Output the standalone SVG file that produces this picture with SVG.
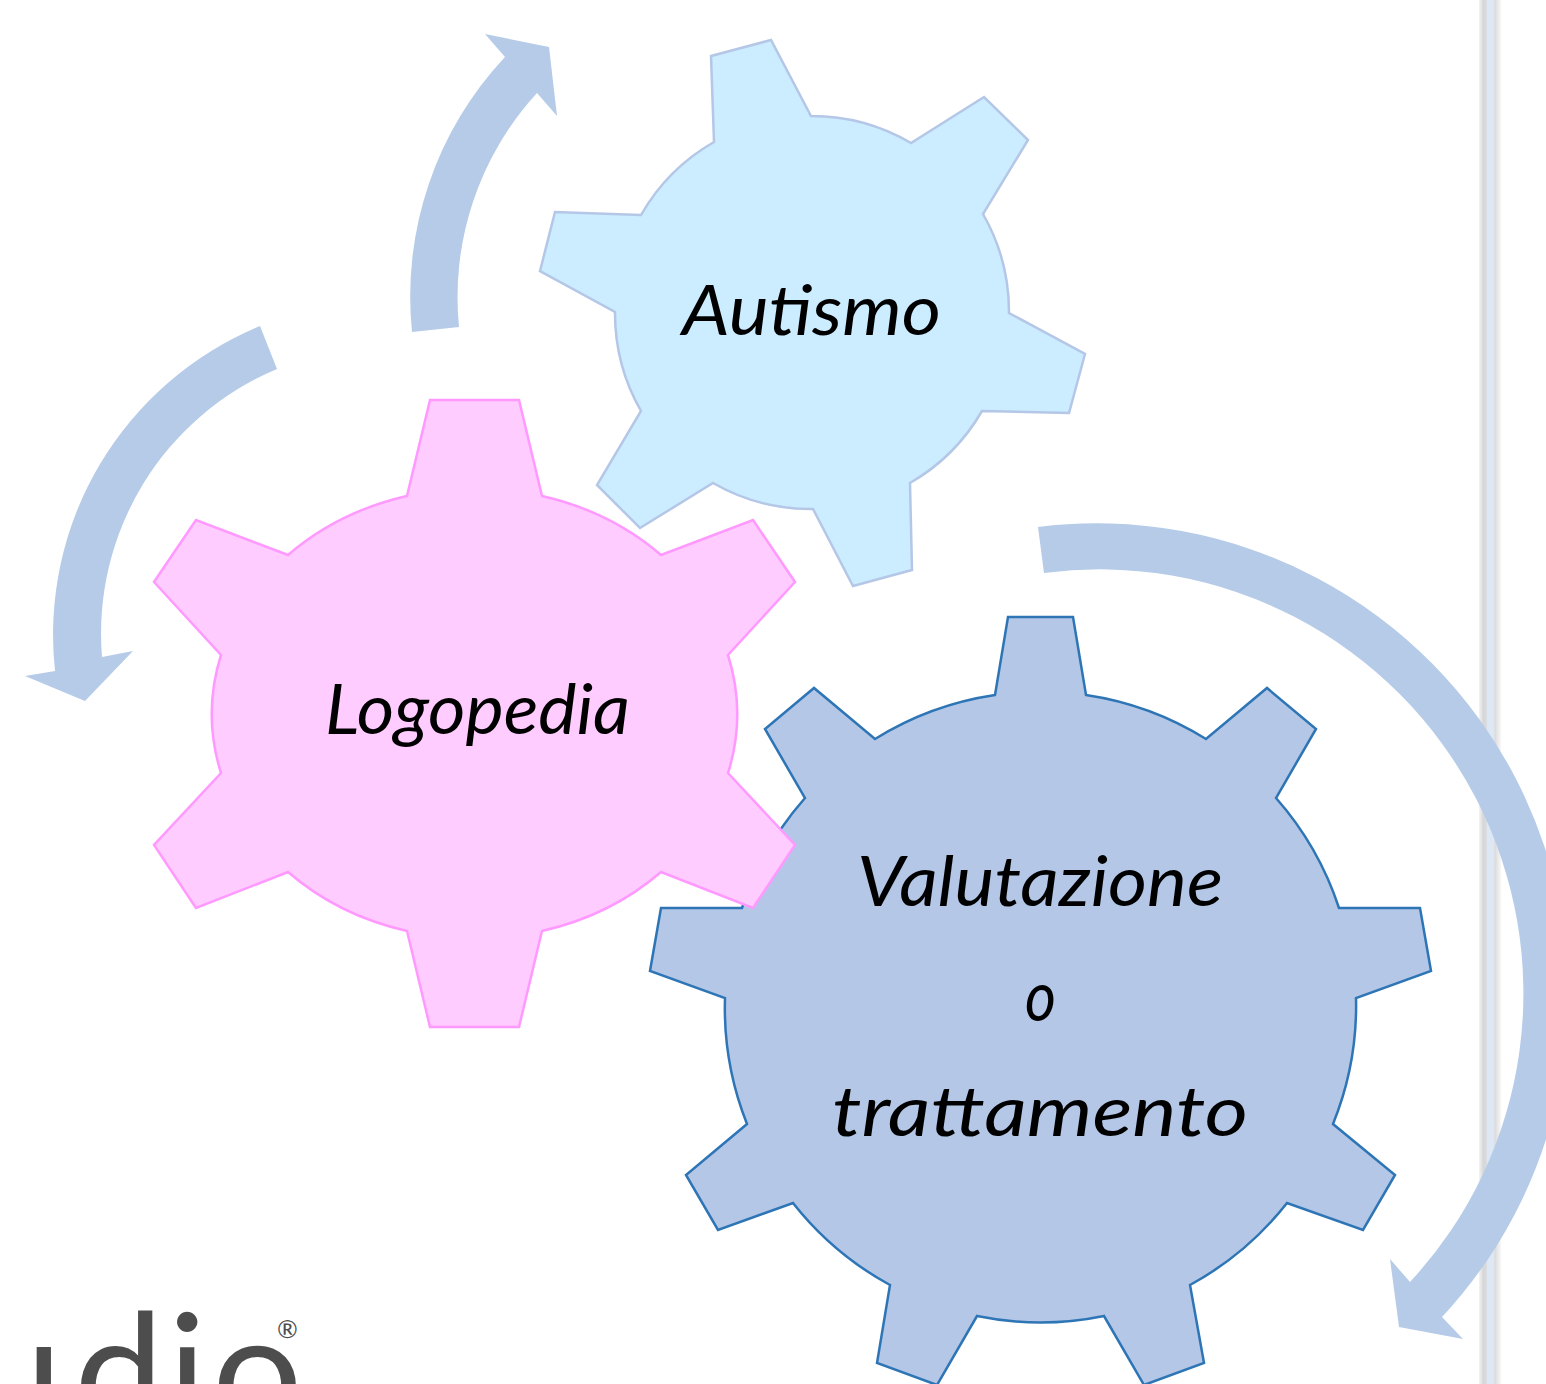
<svg xmlns="http://www.w3.org/2000/svg" width="1546" height="1384" viewBox="0 0 1546 1384">
<style>
.lbl{font-family:"Lato","Noto Sans",sans-serif;font-style:italic;font-size:70px;fill:#000;text-anchor:start}
.arrow{fill:#B5CBE8;stroke:none}
.gear{stroke-width:2.5;stroke-linejoin:miter}
.logo{font-family:"Lato","Noto Sans",sans-serif;fill:#4D4D4D}
</style>
<defs>
<linearGradient id="band" x1="0" x2="1" y1="0" y2="0">
<stop offset="0" stop-color="#F4F4F4"/><stop offset="0.2" stop-color="#D6D6D6"/><stop offset="0.36" stop-color="#D9DDE2"/><stop offset="0.38" stop-color="#DEE8F5"/><stop offset="0.68" stop-color="#DEE8F5"/><stop offset="0.72" stop-color="#DADADA"/><stop offset="1" stop-color="#F8F8F8"/>
</linearGradient>
</defs>
<rect width="1546" height="1384" fill="#FFFFFF"/>
<rect id="side-band" x="1479" y="0" width="22" height="1384" fill="url(#band)"/>
<g id="logo">
<text class="logo" font-size="160" x="-27 74 168 212" y="1428">udio</text>
<text class="logo" font-size="25" x="277" y="1338">®</text>
</g>
<g id="connectors">
<path class="arrow" d="M1038 527A472 472 0 0 1 1442 1317L1463 1339L1399 1327L1390 1259L1410 1282A424 424 0 0 0 1044 573Z"/>
<path class="arrow" d="M412 332A350 350 0 0 1 505 57L485 34L549 47L557 116L537 93A302 302 0 0 0 459 327Z"/>
<path class="arrow" d="M260 326A334 334 0 0 0 55 671L25 676L85 701L133 651L102 657A287 287 0 0 1 277 369Z"/>
</g>
<g id="node-valutazione">
<path class="gear" fill="#B4C7E7" stroke="#2E75B6" d="M995 695L1008 617L1073 617L1086 695A315 315 0 0 1 1206 739L1267 688L1316 729L1276 798A315 315 0 0 1 1339 908L1420 908L1431 971L1356 998A315 315 0 0 1 1333 1124L1395 1175L1363 1230L1287 1203A315 315 0 0 1 1190 1285L1204 1363L1144 1385L1104 1316A315 315 0 0 1 977 1316L937 1385L877 1363L890 1285A315 315 0 0 1 793 1203L718 1230L686 1175L747 1124A315 315 0 0 1 725 998L650 971L661 908L742 908A315 315 0 0 1 805 798L765 729L814 688L875 739A315 315 0 0 1 995 695Z"/>
<text class="lbl" x="857" y="906" textLength="366" lengthAdjust="spacingAndGlyphs">Valutazione</text>
<text class="lbl" x="1025" y="1021" textLength="31" lengthAdjust="spacingAndGlyphs">o</text>
<text class="lbl" x="832" y="1136" textLength="416" lengthAdjust="spacingAndGlyphs">trattamento</text>
</g>
<g id="node-logopedia">
<path class="gear" fill="#FFCCFF" stroke="#FF99FF" d="M407 496L430 400L519 400L542 496A263 226 0 0 1 661 555L753 520L795 582L728 655A263 226 0 0 1 728 773L795 845L753 908L661 872A263 226 0 0 1 542 931L519 1027L430 1027L407 931A263 226 0 0 1 288 872L196 908L154 845L221 773A263 226 0 0 1 221 655L154 582L196 520L288 555A263 226 0 0 1 407 496Z"/>
<text class="lbl" x="325" y="734" textLength="305" lengthAdjust="spacingAndGlyphs">Logopedia</text>
</g>
<g id="node-autismo">
<path class="gear" fill="#CCECFF" stroke="#B4C7E7" d="M811 116A197 197 0 0 1 911 143L984 97L1028 140L983 214A197 197 0 0 1 1009 313L1085 354L1069 413L982 411A197 197 0 0 1 910 483L912 570L853 586L813 509A197 197 0 0 1 713 483L640 528L597 485L641 411A197 197 0 0 1 615 312L540 271L555 212L641 215A197 197 0 0 1 714 142L711 56L771 40Z"/>
<text class="lbl" x="682" y="335" textLength="259" lengthAdjust="spacingAndGlyphs">Autismo</text>
</g>
</svg>
